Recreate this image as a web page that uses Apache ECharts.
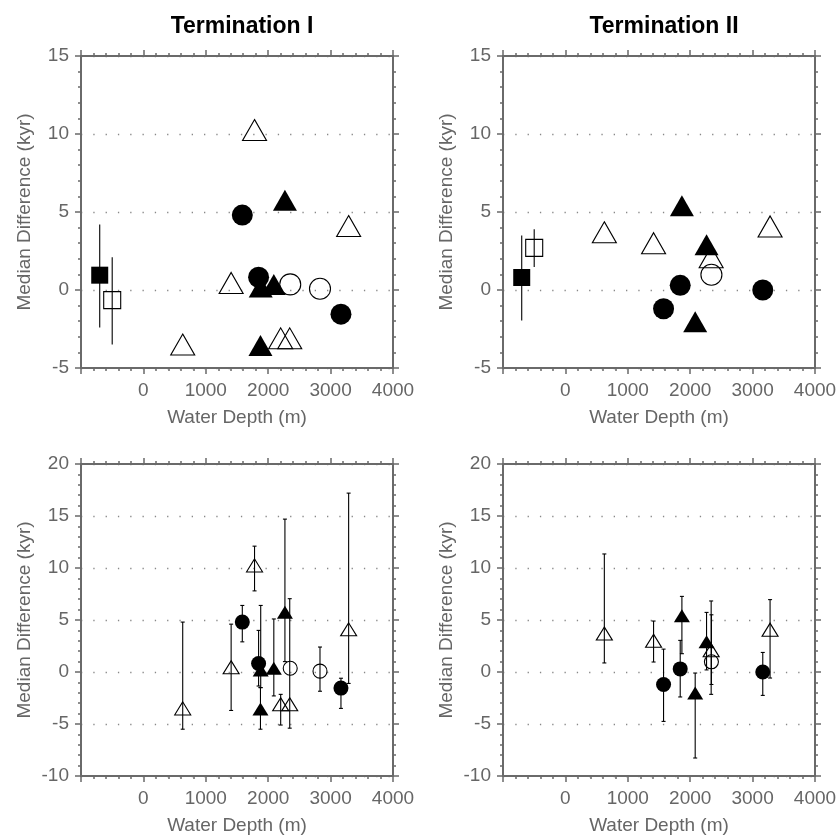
<!DOCTYPE html>
<html>
<head>
<meta charset="utf-8">
<script src="https://cdn.jsdelivr.net/npm/echarts@6/dist/echarts.min.js"></script>
<style>
html,body{margin:0;padding:0;background:#fff;}
#chart{width:840px;height:838px;}
</style>
</head>
<body>
<div id="chart"></div>
<script>
// ---------------- DATA ----------------
// Termination I (sites)
const t1Depth  = [630, 1406, 1781, 1585, 1846, 1880, 1876, 2090, 2268, 2200, 2345, 2353, 2830, 3166, 3289];
const t1Median = [-3.5, 0.45, 10.25, 4.8, 0.82, 0.2, -3.55, 0.35, 5.75, -3.1, -3.1, 0.36, 0.08, -1.55, 4.1];
const t1Low    = [-5.5, -3.7, 7.8, 2.9, -1.35, -1.5, -5.5, -2.3, 1.0, -5.1, -5.4, null, -1.85, -3.5, -1.1];
const t1High   = [4.8, 4.6, 12.1, 6.4, 4.0, 6.4, -1.5, 5.1, 14.7, -2.15, 7.05, null, 2.4, -0.6, 17.2];
const t1Marker = ['openTriangle','openTriangle','openTriangle','filledCircle','filledCircle','filledTriangle','filledTriangle','filledTriangle','filledTriangle','openTriangle','openTriangle','openCircle','openCircle','filledCircle','openTriangle'];
// Termination I reference points (squares)
const t1RefDepth  = [-700, -500];
const t1RefMedian = [0.95, -0.65];
const t1RefLow    = [-2.4, -3.5];
const t1RefHigh   = [4.2, 2.1];
const t1RefMarker = ['filledSquare', 'openSquare'];

// Termination II (sites)
const t2Depth  = [624, 1413, 1573, 1840, 1867, 2080, 2262, 2336, 2340, 3163, 3280];
const t2Median = [3.7, 3.0, -1.2, 0.3, 5.4, -2.03, 2.9, 2.1, 0.98, 0.0, 4.07];
const t2Low    = [0.87, 0.96, -4.75, -2.4, 1.76, -8.27, 0.2, -2.15, -1.2, -2.25, -0.58];
const t2High   = [11.35, 4.9, 2.2, 3.04, 7.27, -0.1, 5.73, 6.83, 5.5, 1.88, 6.96];
const t2Marker = ['openTriangle','openTriangle','filledCircle','filledCircle','filledTriangle','filledTriangle','filledTriangle','openTriangle','openCircle','filledCircle','openTriangle'];
// Termination II reference points (squares)
const t2RefDepth  = [-700, -500];
const t2RefMedian = [0.8, 2.7];
const t2RefLow    = [-1.95, 1.48];
const t2RefHigh   = [3.5, 3.9];
const t2RefMarker = ['filledSquare', 'openSquare'];

// axes
const xTicks = [0, 1000, 2000, 3000, 4000];
const topYTicks = [-5, 0, 5, 10, 15];
const bottomYTicks = [-10, -5, 0, 5, 10, 15, 20];
const panelTitles = ['Termination I', 'Termination II'];
const xName = 'Water Depth (m)';
const yName = 'Median Difference (kyr)';

// ---------------- STYLE / LAYOUT ----------------
const FONT = '"Liberation Sans", Arial, Helvetica, sans-serif';
const GRAY = '#666666';
const AXIS = '#6a6a6a';
const panels = [
  {left: 81,  top: 56,  yMin: -5,  yMax: 15},
  {left: 503, top: 56,  yMin: -5,  yMax: 15},
  {left: 81,  top: 464, yMin: -10, yMax: 20},
  {left: 503, top: 464, yMin: -10, yMax: 20}
];
const W = 312, H = 312;

const grid = [], xAxis = [], yAxis = [], series = [];

panels.forEach((p, i) => {
  grid.push({left: p.left, top: p.top, width: W, height: H, containLabel: false});
  const common = {
    type: 'value', gridIndex: i, min: -1000, max: 4000, interval: 1000,
    axisLine: {show: true, onZero: false, lineStyle: {color: AXIS, width: 2}},
    axisTick: {show: true, inside: false, length: 6, lineStyle: {color: AXIS, width: 1.5}},
    minorTick: {show: true, splitNumber: 5, length: 3, lineStyle: {color: AXIS, width: 1.5}},
    splitLine: {show: false}
  };
  xAxis.push(Object.assign({}, common, {
    position: 'bottom',
    name: xName, nameLocation: 'middle', nameGap: 40,
    nameTextStyle: {color: GRAY, fontSize: 19, fontFamily: FONT},
    axisLabel: {show: true, color: GRAY, fontSize: 19, fontFamily: FONT, margin: 13,
      formatter: v => (xTicks.indexOf(v) >= 0 ? String(v) : '')}
  }));
  xAxis.push(Object.assign({}, common, {position: 'top', axisLabel: {show: false}}));
  const ycommon = {
    type: 'value', gridIndex: i, min: p.yMin, max: p.yMax, interval: 5,
    axisLine: {show: true, onZero: false, lineStyle: {color: AXIS, width: 2}},
    axisTick: {show: true, inside: false, length: 6, lineStyle: {color: AXIS, width: 1.5}},
    minorTick: {show: true, splitNumber: 5, length: 3, lineStyle: {color: AXIS, width: 1.5}}
  };
  const yt = p.yMin === -5 ? topYTicks : bottomYTicks;
  yAxis.push(Object.assign({}, ycommon, {
    position: 'left',
    name: yName, nameLocation: 'middle', nameGap: 47,
    nameTextStyle: {color: GRAY, fontSize: 19, fontFamily: FONT},
    axisLabel: {show: true, color: GRAY, fontSize: 19, fontFamily: FONT, margin: 12,
      formatter: v => (yt.indexOf(v) >= 0 ? String(v) : '')},
    splitLine: {show: true, lineStyle: {color: '#888', width: 1.3, type: [1.3, 11]}}
  }));
  yAxis.push(Object.assign({}, ycommon, {position: 'right', axisLabel: {show: false}, splitLine: {show: false}}));
});

function markerStyle(kind, big) {
  const filled = kind.indexOf('filled') === 0;
  let symbol, size;
  if (kind.indexOf('Circle') > 0) { symbol = 'circle'; size = big ? 21 : (filled ? 15 : 14); }
  else if (kind.indexOf('Triangle') > 0) { symbol = 'triangle'; size = big ? [24, 21] : [16, 13]; }
  else { symbol = 'rect'; size = big ? 17 : 12; }
  return {
    symbol, symbolSize: size,
    itemStyle: {color: filled ? '#000' : 'rgba(0,0,0,0)', borderColor: '#000',
      borderWidth: filled ? 0 : 1.1, opacity: 1}
  };
}

function errorSeries(gi, depth, low, high, cap) {
  const data = [];
  depth.forEach((d, k) => { if (low[k] != null && high[k] != null) data.push([d, low[k], high[k]]); });
  return {
    type: 'custom', xAxisIndex: gi * 2, yAxisIndex: gi * 2, silent: true, z: 2,
    data: data,
    encode: {x: 0, y: [1, 2]},
    renderItem: function (params, api) {
      const x = api.value(0);
      const pLo = api.coord([x, api.value(1)]);
      const pHi = api.coord([x, api.value(2)]);
      const st = {stroke: '#000', lineWidth: 1.1};
      const children = [{type: 'line', shape: {x1: pLo[0], y1: pLo[1], x2: pHi[0], y2: pHi[1]}, style: st}];
      if (cap > 0) {
        children.push({type: 'line', shape: {x1: pLo[0] - cap, y1: pLo[1], x2: pLo[0] + cap, y2: pLo[1]}, style: st});
        children.push({type: 'line', shape: {x1: pHi[0] - cap, y1: pHi[1], x2: pHi[0] + cap, y2: pHi[1]}, style: st});
      }
      return {type: 'group', children: children};
    }
  };
}

function markerSeries(gi, depth, median, marker, big) {
  const kinds = ['openTriangle', 'openCircle', 'openSquare', 'filledTriangle', 'filledCircle', 'filledSquare'];
  kinds.forEach((kind, kk) => {
    const data = [];
    depth.forEach((d, k) => { if (marker[k] === kind) data.push([d, median[k]]); });
    if (!data.length) return;
    const ms = markerStyle(kind, big);
    series.push({
      type: 'scatter', xAxisIndex: gi * 2, yAxisIndex: gi * 2, silent: true, z: 3 + kk,
      symbol: ms.symbol, symbolSize: ms.symbolSize, itemStyle: ms.itemStyle,
      emphasis: {disabled: true},
      data: data
    });
  });
}

// Top panels: medians with reference error bars only
series.push(errorSeries(0, t1RefDepth, t1RefLow, t1RefHigh, 0));
markerSeries(0, t1Depth.concat(t1RefDepth), t1Median.concat(t1RefMedian), t1Marker.concat(t1RefMarker), true);
series.push(errorSeries(1, t2RefDepth, t2RefLow, t2RefHigh, 0));
markerSeries(1, t2Depth.concat(t2RefDepth), t2Median.concat(t2RefMedian), t2Marker.concat(t2RefMarker), true);
// Bottom panels: sites with uncertainty bars
series.push(errorSeries(2, t1Depth, t1Low, t1High, 2));
markerSeries(2, t1Depth, t1Median, t1Marker, false);
series.push(errorSeries(3, t2Depth, t2Low, t2High, 2));
markerSeries(3, t2Depth, t2Median, t2Marker, false);

const option = {
  animation: false,
  backgroundColor: '#ffffff',
  title: [
    {text: panelTitles[0], left: 237, top: 10, textAlign: 'center',
      textStyle: {fontFamily: FONT, fontSize: 23, fontWeight: 'bold', color: '#000'}},
    {text: panelTitles[1], left: 659, top: 10, textAlign: 'center',
      textStyle: {fontFamily: FONT, fontSize: 23, fontWeight: 'bold', color: '#000'}}
  ],
  grid, xAxis, yAxis, series
};

const chart = echarts.init(document.getElementById('chart'), null, {renderer: 'canvas'});
chart.setOption(option);
</script>
</body>
</html>
